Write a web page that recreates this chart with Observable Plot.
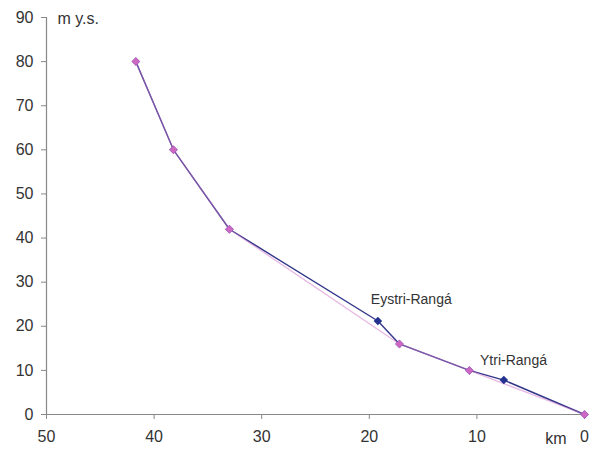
<!DOCTYPE html>
<html>
<head>
<meta charset="utf-8">
<script src="https://cdn.jsdelivr.net/npm/d3@7"></script>
<script src="https://cdn.jsdelivr.net/npm/@observablehq/plot@0.6"></script>
<style>
  html, body { margin: 0; padding: 0; background: #fff; }
  #chart svg { display: block; }
</style>
</head>
<body>
<div id="chart"></div>
<script>
// Series: blue (dark navy) and pink (magenta)
const kmBlue = [41.7, 38.2, 33.0, 19.2, 17.2, 10.7, 7.5, 0];
const hBlue  = [80, 60, 42, 21.2, 16, 10, 7.8, 0];
const kmPink = [41.7, 38.2, 33.0, 17.2, 10.7, 0];
const hPink  = [80, 60, 42, 16, 10, 0];

const xTicks = [50, 40, 30, 20, 10, 0];
const yTicks = [0, 10, 20, 30, 40, 50, 60, 70, 80, 90];

const labelNames = ["Eystri-Rangá", "Ytri-Rangá"];
const labelKm    = [16.1, 6.6];
const labelH     = [26.0, 12.3];

const blue = kmBlue.map((k, i) => ({km: k, h: hBlue[i]}));
const pink = kmPink.map((k, i) => ({km: k, h: hPink[i]}));
const labels = labelNames.map((n, i) => ({name: n, km: labelKm[i], h: labelH[i]}));

const chart = Plot.plot({
  width: 592,
  height: 451,
  marginLeft: 46,
  marginRight: 8,
  marginTop: 17,
  marginBottom: 37,
  style: {fontFamily: "'Liberation Sans', Arial, sans-serif", fontSize: "16px", color: "#333", background: "#fff"},
  x: {domain: [50, 0], ticks: xTicks},
  y: {domain: [0, 90], ticks: yTicks},
  marks: [
    Plot.axisX({ticks: xTicks, tickSize: 5, tickPadding: 11, stroke: "#888", fill: "#333", fontSize: 16, label: null}),
    Plot.axisY({ticks: yTicks, tickSize: 5, tickPadding: 8, stroke: "#888", fill: "#333", fontSize: 16, label: null}),
    Plot.ruleX([50], {y1: 0, y2: 90, stroke: "#888", strokeWidth: 1.2}),
    Plot.ruleY([0], {stroke: "#888", strokeWidth: 1.2}),
    Plot.line(blue, {x: "km", y: "h", stroke: "#33378a", strokeWidth: 1.4}),
    Plot.line(pink, {x: "km", y: "h", stroke: "#d070c8", strokeWidth: 1.3, strokeOpacity: 0.5}),
    Plot.dot(blue, {x: "km", y: "h", symbol: "square", rotate: 45, r: 3.4, fill: "#23318f", stroke: "none"}),
    Plot.dot(pink, {x: "km", y: "h", symbol: "square", rotate: 45, r: 3.4, fill: "#cc68c4", stroke: "none"}),
    Plot.text(labels, {x: "km", y: "h", text: "name", fill: "#333", fontSize: 14, textAnchor: "middle"}),
    Plot.text(["m y.s."], {frameAnchor: "top-left", dx: 11, dy: 1, fill: "#333", fontSize: 16, lineAnchor: "middle"}),
    Plot.text(["km"], {frameAnchor: "bottom-right", dx: -18, dy: 24, fill: "#333", fontSize: 16, lineAnchor: "middle", textAnchor: "end"})
  ]
});
document.getElementById("chart").append(chart);
</script>
</body>
</html>
